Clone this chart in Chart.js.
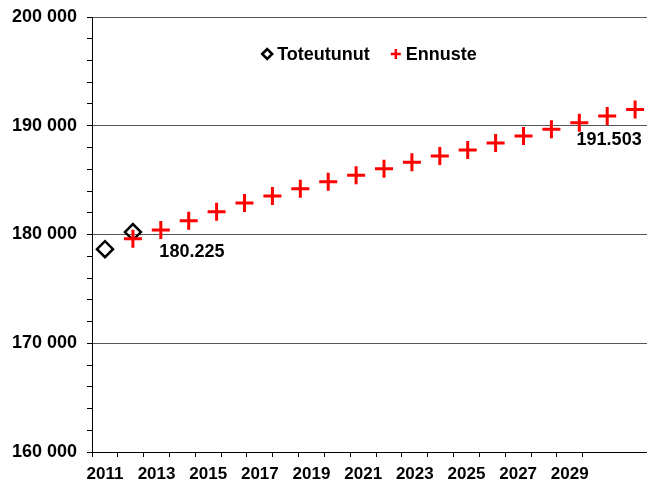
<!DOCTYPE html>
<html>
<head>
<meta charset="utf-8">
<script src="https://cdn.jsdelivr.net/npm/chart.js@4/dist/chart.umd.min.js"></script>
<style>
  html, body { margin: 0; padding: 0; background: #fff; overflow: hidden; }
  #chart { display: block; }
</style>
</head>
<body>
<canvas id="chart" width="647" height="484"></canvas>
<script>
'use strict';

// Toteutunut (actual)
const ACTUAL_YEARS  = [2011, 2012];
const ACTUAL_VALUES = [178650, 180225];

// Ennuste (forecast)
const FORECAST_YEARS  = [2012, 2013, 2014, 2015, 2016, 2017, 2018, 2019, 2020, 2021,
                         2022, 2023, 2024, 2025, 2026, 2027, 2028, 2029, 2030];
const FORECAST_VALUES = [179600, 180420, 181270, 182100, 182900, 183550, 184200, 184850, 185450, 186050,
                         186650, 187220, 187780, 188420, 189050, 189670, 190280, 190900, 191503];

// axis ticks
const X_TICK_YEARS = [2011, 2012, 2013, 2014, 2015, 2016, 2017, 2018, 2019, 2020,
                      2021, 2022, 2023, 2024, 2025, 2026, 2027, 2028, 2029];
const Y_MIN = 160000, Y_MAX = 200000, Y_MAJOR = 10000, Y_MINOR = 2000;

// labelled points: [dataset index, point index]
const LABELLED = [[0, 1], [1, 18]];

const FONT_FAMILY = 'Arial, "Liberation Sans", sans-serif';
const FONT = `bold 18px ${FONT_FAMILY}`;

const fmtSpace = v => String(v).replace(/\B(?=(\d{3})+(?!\d))/g, ' ');
const fmtDot   = v => String(v).replace(/\B(?=(\d{3})+(?!\d))/g, '.');
const toPoints = (xs, ys) => xs.map((x, i) => ({ x, y: ys[i] }));

// no extra side padding from tick labels
const _noPad = scale => {
  scale.paddingLeft = 0;
  scale.paddingRight = 0;
  scale.paddingTop = 0;
  scale.paddingBottom = 0;
};

// value labels next to selected points
const _valueLabelPlugin = {
  id: 'valueLabels',
  afterDatasetsDraw(chart, args, opts) {
    const { ctx } = chart;
    ctx.save();
    ctx.font = FONT;
    ctx.fillStyle = '#000';
    ctx.textAlign = 'center';
    ctx.textBaseline = 'middle';
    LABELLED.forEach(([d, i], k) => {
      const el  = chart.getDatasetMeta(d).data[i];
      const raw = chart.data.datasets[d].data[i];
      const off = opts.offsets[k];
      ctx.fillText(fmtDot(raw.y), el.x + off[0], el.y + off[1]);
    });
    ctx.restore();
  },
};

// legend drawn inside the plot area
const _innerLegendPlugin = {
  id: 'innerLegend',
  afterDraw(chart, args, opts) {
    const { ctx, chartArea } = chart;
    const r = 5, gap = 5, spacing = 21;
    ctx.save();
    ctx.font = FONT;
    ctx.textBaseline = 'middle';
    ctx.textAlign = 'left';
    const items = chart.data.datasets.map(ds => ({
      text: ds.label, style: ds.pointStyle, color: ds.borderColor,
      w: 2 * r + gap + ctx.measureText(ds.label).width,
    }));
    const total = items.reduce((s, it) => s + it.w, 0) + spacing * (items.length - 1);
    let x = (chartArea.left + chartArea.right) / 2 - total / 2;
    const y = chartArea.top + opts.offsetY;
    items.forEach(it => {
      const cx = x + r;
      ctx.strokeStyle = it.color;
      ctx.lineWidth = 2.5;
      ctx.beginPath();
      if (it.style === 'rectRot') {
        ctx.moveTo(cx - r, y); ctx.lineTo(cx, y - r);
        ctx.lineTo(cx + r, y); ctx.lineTo(cx, y + r);
        ctx.closePath();
        ctx.fillStyle = '#fff';
        ctx.fill();
      } else {
        ctx.moveTo(cx - r, y); ctx.lineTo(cx + r, y);
        ctx.moveTo(cx, y - r); ctx.lineTo(cx, y + r);
      }
      ctx.stroke();
      ctx.fillStyle = '#000';
      ctx.fillText(it.text, x + 2 * r + gap, y + 1);
      x += it.w + spacing;
    });
    ctx.restore();
  },
};

new Chart(document.getElementById('chart'), {
  type: 'scatter',
  plugins: [_valueLabelPlugin, _innerLegendPlugin],
  data: {
    datasets: [
      {
        label: 'Toteutunut',
        data: toPoints(ACTUAL_YEARS, ACTUAL_VALUES),
        pointStyle: 'rectRot',
        pointRadius: 8,
        pointHoverRadius: 8,
        borderColor: '#000000',
        backgroundColor: 'rgba(255,255,255,0)',
        borderWidth: 2.5,
        order: 1,
      },
      {
        label: 'Ennuste',
        data: toPoints(FORECAST_YEARS, FORECAST_VALUES),
        pointStyle: 'cross',
        pointRadius: 9,
        pointHoverRadius: 9,
        borderColor: '#ff0000',
        backgroundColor: '#ff0000',
        borderWidth: 3,
        order: 0,
      },
    ],
  },
  options: {
    responsive: false,
    animation: false,
    layout: { autoPadding: false, padding: { top: 17, right: 0, bottom: 0, left: 0 } },
    scales: {
      // data axis (hidden)
      x: {
        type: 'linear',
        display: false,
        min: 2010.534,
        max: 2030.426,
        ticks: { display: false },
        afterFit: _noPad,
      },
      // visible year axis
      xl: {
        type: 'linear',
        position: 'bottom',
        min: 2010.5,
        max: 2031.99,
        afterBuildTicks(scale) { scale.ticks = X_TICK_YEARS.map(v => ({ value: v })); },
        afterFit(scale) {
          scale.height = 32;
          _noPad(scale);
        },
        border: { display: true, color: '#000', width: 1 },
        grid: {
          offset: true,
          drawOnChartArea: false,
          drawTicks: true,
          tickLength: 5,
          tickColor: '#000',
        },
        ticks: {
          autoSkip: false,
          maxRotation: 0,
          padding: 7,
          color: '#000',
          font: { family: FONT_FAMILY, size: 17, weight: 'bold' },
          callback: v => (v % 2 === 1 ? String(v) : ''),
        },
      },
      y: {
        min: Y_MIN,
        max: Y_MAX,
        afterBuildTicks(scale) {
          const t = [];
          for (let v = Y_MIN; v <= Y_MAX; v += Y_MINOR) t.push({ value: v });
          scale.ticks = t;
        },
        afterFit(scale) {
          scale.width = 92;
          _noPad(scale);
        },
        border: { display: true, color: '#000', width: 1 },
        grid: {
          color: c => (c.tick && c.tick.value % Y_MAJOR === 0 ? '#555555' : 'rgba(0,0,0,0)'),
          lineWidth: 1,
          tickLength: 5,
          tickColor: '#000',
        },
        ticks: {
          autoSkip: false,
          padding: 10,
          color: '#000',
          font: { family: FONT_FAMILY, size: 18, weight: 'bold' },
          callback: v => (v % Y_MAJOR === 0 ? fmtSpace(v) : ''),
        },
      },
    },
    plugins: {
      legend: { display: false },
      tooltip: { enabled: false },
      valueLabels: { offsets: [[59, 20], [-26, 31]] },
      innerLegend: { offsetY: 37 },
    },
  },
});
</script>
</body>
</html>
